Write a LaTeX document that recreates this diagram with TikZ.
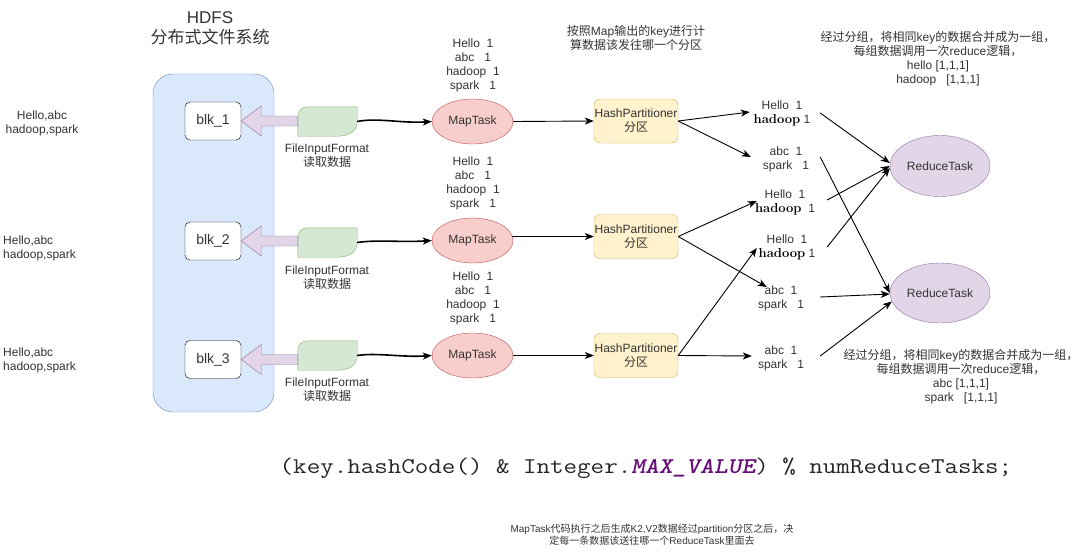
\documentclass[tikz,border=0pt]{standalone}
\usepackage{fontspec}
\setsansfont{Liberation Sans}
\newfontfamily\cjk{Noto Sans CJK SC}
\usetikzlibrary{shapes.geometric,arrows.meta,calc}
\definecolor{txt}{HTML}{333333}
\definecolor{bluefill}{HTML}{DAE8FC}
\definecolor{blueline}{HTML}{6C8EBF}
\definecolor{greenfill}{HTML}{D5E8D4}
\definecolor{greenline}{HTML}{82B366}
\definecolor{purplefill}{HTML}{E1D5E7}
\definecolor{purpleline}{HTML}{9673A6}
\definecolor{redfill}{HTML}{F8CECC}
\definecolor{redline}{HTML}{B85450}
\definecolor{yellowfill}{HTML}{FFF2CC}
\definecolor{yellowline}{HTML}{D6B656}
\definecolor{codepurple}{HTML}{660E7A}
\newcommand\zh[1]{{\cjk #1}}
\newcommand\hdp{{\rmfamily\bfseries\fontsize{13}{14}\selectfont\color{black}hadoop}}
\newcommand\fifshape[1]{\draw[fifdraw] (#1.south west) -- ($(#1.north west)+(0,10)$) .. controls ($(#1.north west)+(0,4)$) and ($(#1.north west)+(4,0)$) .. ($(#1.north west)+(10,0)$) -- (#1.north east) -- ($(#1.south east)+(0,-15)$) .. controls ($(#1.south east)+(0,-5)$) and ($(#1.south east)+(-8,0)$) .. ($(#1.south east)+(-20,0)$) -- cycle;}
\newcommand\hollowarrow[2]{\draw[harrow] (#1.east) -- ++(20,-15) -- ++(0,10) -- ($(#2.west |- #1.east)+(0,-5)$) -- ++(0,10) -- ($(#1.east)+(20,5)$) -- ++(0,10) -- cycle;}
\tikzset{
  lbl/.style={align=center, inner sep=0pt},
  blkbox/.style={draw=black, fill=white, rounded corners=5pt, minimum width=56pt, minimum height=38pt, inner sep=0pt, font=\sffamily\fontsize{14}{16}\selectfont},
  fifbox/.style={minimum width=59pt, minimum height=29pt, inner sep=0pt},
  fifdraw/.style={draw=greenline, fill=greenfill},
  harrow/.style={draw=purpleline, fill=purplefill},
  maptask/.style={ellipse, draw=redline, fill=redfill, minimum width=81pt, minimum height=45pt, inner sep=0pt},
  hpbox/.style={draw=yellowline, fill=yellowfill, rounded corners=6pt, minimum width=84pt, minimum height=44pt, inner sep=0pt, align=center},
  rtask/.style={ellipse, draw=purpleline, fill=purplefill, minimum width=100pt, minimum height=61pt, inner sep=0pt},
  kv/.style={align=center, inner sep=0pt, minimum width=70pt},
  arr/.style={draw=black, line width=0.9pt, -{Stealth[length=9pt,width=7pt,inset=2.5pt]}},
  wavy/.style={draw=black, line width=1.6pt, -{Stealth[length=9pt,width=7pt,inset=2.5pt]}},
}
\begin{document}
\begin{tikzpicture}[x=1pt,y=-1pt,font=\sffamily\fontsize{12}{14}\selectfont,text=txt]
\useasboundingbox (0,0) rectangle (1084,554);

% title
\node[lbl, font=\sffamily\fontsize{17}{20}\selectfont] (title) at (210,28) {HDFS\\\zh{分布式文件系统}};

% HDFS container
\node[draw=blueline, fill=bluefill, rounded corners=20pt, minimum width=121pt, minimum height=338pt, inner sep=0pt] (hdfs) at (213.5,243) {};

% left inputs
\node[lbl] (in1) at (42,123) {Hello,abc\\hadoop,spark};
\node[lbl, align=left, anchor=west] (in2) at (3,248) {Hello,abc\\hadoop,spark};
\node[lbl, align=left, anchor=west] (in3) at (3,360) {Hello,abc\\hadoop,spark};

% blocks
\node[blkbox] (blk1) at (213,121) {blk\_1};
\node[blkbox] (blk2) at (213,241) {blk\_2};
\node[blkbox] (blk3) at (213,359.5) {blk\_3};

% FileInputFormat shapes
\node[fifbox] (fif1) at (327.5,121.5) {};
\node[fifbox] (fif2) at (327.5,242.5) {};
\node[fifbox] (fif3) at (327.5,355.5) {};
\fifshape{fif1}
\fifshape{fif2}
\fifshape{fif3}

\hollowarrow{blk1}{fif1}
\hollowarrow{blk2}{fif2}
\hollowarrow{blk3}{fif3}

\node[lbl] (fl1) at (327,156) {FileInputFormat\\\zh{读取数据}};
\node[lbl] (fl2) at (327,278) {FileInputFormat\\\zh{读取数据}};
\node[lbl] (fl3) at (327,390) {FileInputFormat\\\zh{读取数据}};

% MapTasks
\node[maptask] (map1) at (472.5,121.5) {MapTask};
\node[maptask] (map2) at (472.5,240.5) {MapTask};
\node[maptask] (map3) at (472.5,355.5) {MapTask};

\node[lbl] (mo1) at (473,65) {Hello~~1\\abc~~~1\\hadoop~~1\\spark~~~1};
\node[lbl] (mo2) at (473,183) {Hello~~1\\abc~~~1\\hadoop~~1\\spark~~~1};
\node[lbl] (mo3) at (473,298) {Hello~~1\\abc~~~1\\hadoop~~1\\spark~~~1};

\draw[wavy] (fif1.east) .. controls +(20,-4) and +(-30,2) .. (map1.west);
\draw[wavy] (fif2.east) .. controls +(20,-3) and +(-30,2) .. (map2.west);
\draw[wavy] (fif3.east) .. controls +(20,-3) and +(-30,2) .. (map3.west);

% partitioners
\node[hpbox] (hp1) at (636,121) {\makebox[80pt]{HashPartitioner}\\\zh{分区}};
\node[hpbox] (hp2) at (636,236.5) {\makebox[80pt]{HashPartitioner}\\\zh{分区}};
\node[hpbox] (hp3) at (636,355.5) {\makebox[80pt]{HashPartitioner}\\\zh{分区}};

\node[lbl] (hpnote) at (636,38) {\zh{按照}Map\zh{输出的}key\zh{进行计}\\\zh{算数据该发往哪一个分区}};

\draw[arr] (map1.east) -- (hp1.west);
\draw[arr] ([xshift=-1.5pt]map2.east |- hp2.west) -- (hp2.west);
\draw[arr] (map3.east) -- (hp3.west);

% key-value groups
\node[kv] (kv1) at (782,113) {Hello~~1\\\hdp~1};
\node[kv] (kv2) at (786,159) {abc~~1\\spark~~~1};
\node[kv] (kv3) at (785,202) {Hello~~1\\\hdp~~1};
\node[kv] (kv4) at (787,247) {Hello~~1\\\hdp~1};
\node[kv] (kv5) at (781,298) {abc~~1\\spark~~~1};
\node[kv] (kv6) at (781,358) {abc~~1\\spark~~~1};

\draw[arr] (hp1.east) -- ([xshift=3pt,yshift=1pt]kv1.west);
\draw[arr] (hp1.east) -- ([yshift=2pt]kv2.west);
\draw[arr] (hp2.east) -- ([xshift=7pt,yshift=1pt]kv3.west);
\draw[arr] (hp2.east) -- ([xshift=21pt,yshift=11pt]kv5.west);
\draw[arr] (hp3.east) -- ([xshift=5pt,yshift=-1pt]kv4.west);
\draw[arr] (hp3.east) -- ([xshift=6pt,yshift=2pt]kv6.west);

% reduce tasks
\node[rtask] (rt1) at (940,166) {ReduceTask};
\node[rtask, minimum height=60pt] (rt2) at (940,293) {ReduceTask};

\draw[arr] ([xshift=3pt]kv1.east) -- ([yshift=3pt]rt1.west);
\draw[arr] ([xshift=7pt,yshift=2pt]kv3.east) -- (rt1.west);
\draw[arr] ([xshift=5pt]kv4.east) -- ([yshift=-2pt]rt1.west);
\draw[arr] ([xshift=-1pt,yshift=2pt]kv2.east) -- (rt2.west);
\draw[arr] ([xshift=4pt,yshift=1pt]kv5.east) -- ([yshift=-1pt]rt2.west);
\draw[arr] ([xshift=4pt,yshift=2pt]kv6.east) -- (rt2.190);

\node[lbl] (rn1) at (938,59) {\zh{经过分组，将相同}key\zh{的数据合并成为一组，}\\\zh{每组数据调用一次}reduce\zh{逻辑，}\\hello [1,1,1]\\hadoop~~~[1,1,1]};
\node[lbl] (rn2) at (961,376.5) {\zh{经过分组，将相同}key\zh{的数据合并成为一组，}\\\zh{每组数据调用一次}reduce\zh{逻辑，}\\abc [1,1,1]\\spark~~~[1,1,1]};

% code
\node[lbl, font=\ttfamily\fontsize{22.5}{24}\selectfont, text=black!85] (code) at (646,468) {\scalebox{1.167}[1]{(key.hashCode() \& Integer.{\bfseries\itshape\color{codepurple}MAX\_VALUE}) \% numReduceTasks;}};

% bottom note
\node[lbl, font=\sffamily\fontsize{10}{12}\selectfont] (note) at (652,535) {MapTask\zh{代码执行之后生成}K2,V2\zh{数据经过}partition\zh{分区之后，决}\\\zh{定每一条数据该送往哪一个}ReduceTask\zh{里面去}};
\end{tikzpicture}
\end{document}
